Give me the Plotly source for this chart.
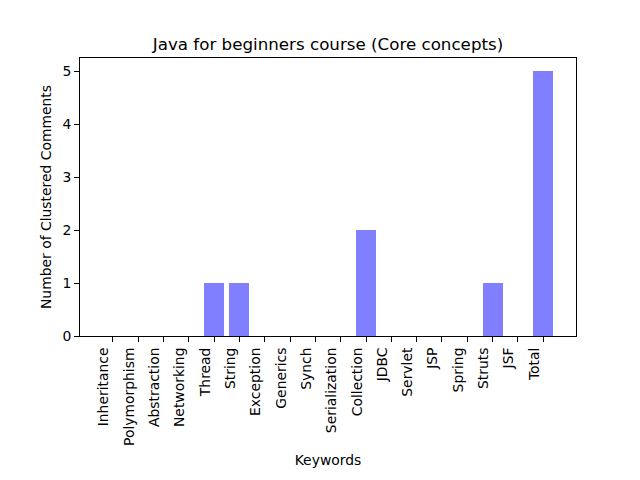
import plotly.graph_objects as go

keywords = ["Inheritance", "Polymorphism", "Abstraction", "Networking", "Thread", "String",
            "Exception", "Generics", "Synch", "Serialization", "Collection", "JDBC",
            "Servlet", "JSP", "Spring", "Struts", "JSF", "Total"]
counts = [0, 0, 0, 0, 1, 1, 0, 0, 0, 0, 2, 0, 0, 0, 0, 1, 0, 5]

x_pos = list(range(len(keywords)))

fig = go.Figure(go.Bar(x=x_pos, y=counts, width=0.8, marker=dict(color="rgba(0,0,255,0.5)", line=dict(width=0))))

font = "DejaVu Sans"
fig.update_layout(
    width=640, height=480,
    margin=dict(l=80, r=64, t=58, b=144),
    plot_bgcolor="white", paper_bgcolor="white",
    font=dict(family=font, color="black", size=13.9),
    title=dict(text="Java for beginners course (Core concepts)", x=0.5, xref="paper", xanchor="center",
               y=1 - 44 / 480, yanchor="middle", font=dict(size=16.7)),
    showlegend=False,
    bargap=0,
)
fig.update_xaxes(
    range=[-1.29, 18.29], tickmode="array", tickvals=x_pos, ticktext=keywords,
    tickangle=-90, ticks="outside", ticklen=5, tickcolor="black", showgrid=False,
    showline=True, linecolor="black", linewidth=1, mirror=True, zeroline=False,
    tickfont=dict(size=13.9), ticklabelshift=-9,
    title=dict(text="Keywords", standoff=10, font=dict(size=13.9)),
)
fig.update_yaxes(
    range=[0, 5.25], tickvals=[0, 1, 2, 3, 4, 5], ticks="outside", ticklen=5,
    tickcolor="black", showgrid=False, showline=True, linecolor="black", linewidth=1,
    mirror=True, zeroline=False, tickfont=dict(size=13.9),
    title=dict(text="Number of Clustered Comments", standoff=7, font=dict(size=13.9)),
)
fig.write_html("out.html")
